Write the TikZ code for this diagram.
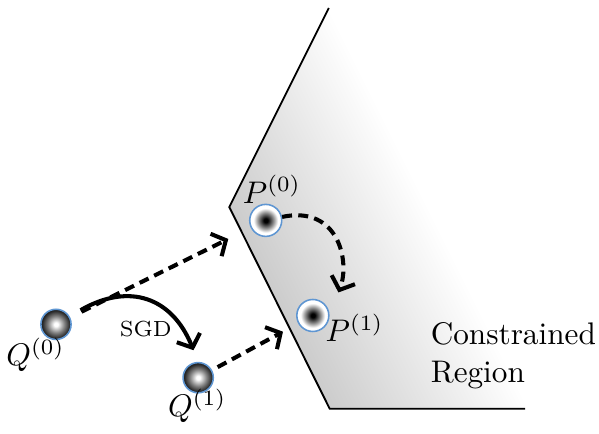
\documentclass[tikz,border=0pt]{standalone}
\usepackage{amsmath}
\usetikzlibrary{arrows.meta}
\definecolor{regionGray}{RGB}{204,204,204}
\definecolor{ringBlue}{RGB}{95,150,210}
\pgfdeclareradialshading{qBall}{\pgfpoint{0bp}{0bp}}{color(0bp)=(white); color(3bp)=(white); color(14bp)=(black!50); color(22bp)=(black!82); color(25bp)=(black!90); color(50bp)=(black!90)}
\pgfdeclareradialshading{pBall}{\pgfpoint{0bp}{0bp}}{color(0bp)=(black); color(3bp)=(black); color(12bp)=(black!45); color(19bp)=(white); color(50bp)=(white)}

\begin{document}
\begin{tikzpicture}[
  x=1cm,
  y=1cm,
  qpoint/.style={circle, draw=ringBlue, line width=0.5pt, shade, shading=qBall, minimum size=0.34cm, inner sep=0pt},
  ppoint/.style={circle, draw=ringBlue, line width=0.5pt, shade, shading=pBall, minimum size=0.36cm, inner sep=0pt},
  ptLabel/.style={inner sep=0pt},
  boundary/.style={draw=black, line width=0.6pt},
  proj/.style={line width=1.3pt, dash pattern=on 3.2pt off 2pt, -{Straight Barb[length=3.5pt,width=8pt]}},
  sgd/.style={line width=1.3pt, -{Straight Barb[length=3.5pt,width=8pt]}}
]
  \useasboundingbox (0,0) rectangle (6.74,4.88);

  % constrained region, fading away from its edge
  \begin{scope}
    \clip (3.70,4.79) -- (2.58,2.55) -- (3.71,0.28) -- (5.91,0.28) -- (5.91,4.79) -- cycle;
    \begin{scope}[transform canvas={shift={(2.58,2.55)}, rotate=26.57}]
      \shade[left color=regionGray, right color=white] (0,-4.5) rectangle (2.0,4.5);
    \end{scope}
  \end{scope}
  \draw[boundary] (3.70,4.79) -- (2.58,2.55) -- (3.71,0.28) -- (5.91,0.28);

  \node[qpoint] (Q0) at (0.63,1.23) {};
  \node[qpoint] (Q1) at (2.23,0.63) {};
  \node[ppoint] (P0) at (2.99,2.40) {};
  \node[ppoint] (P1) at (3.52,1.33) {};

  \node[ptLabel] (Q0lab) at (0.40,0.89) {$Q^{(0)}$};
  \node[ptLabel] (Q1lab) at (2.22,0.31) {$Q^{(1)}$};
  \node[ptLabel] (P0lab) at (3.06,2.75) {$P^{(0)}$};
  \node[ptLabel] (P1lab) at (3.99,1.19) {$P^{(1)}$};
  \node[ptLabel] (sgdLab) at (1.64,1.18) {\scriptsize SGD};
  \node[ptLabel, anchor=west, align=left] (regionLab) at (4.84,0.88) {Constrained\\Region};

  \draw[proj, shorten <=4pt, shorten >=8pt] (Q0) -- (P0);
  \draw[proj, shorten <=2pt, shorten >=5.5pt] (Q1) -- (P1);
  \draw[sgd, shorten <=4pt, shorten >=4pt] (Q0) to[out=30, in=112, looseness=1.3] (Q1.north);
  \draw[proj, shorten >=7.9pt] (P0) to[out=12, in=69, looseness=1.35] (P1.east);
\end{tikzpicture}
\end{document}
